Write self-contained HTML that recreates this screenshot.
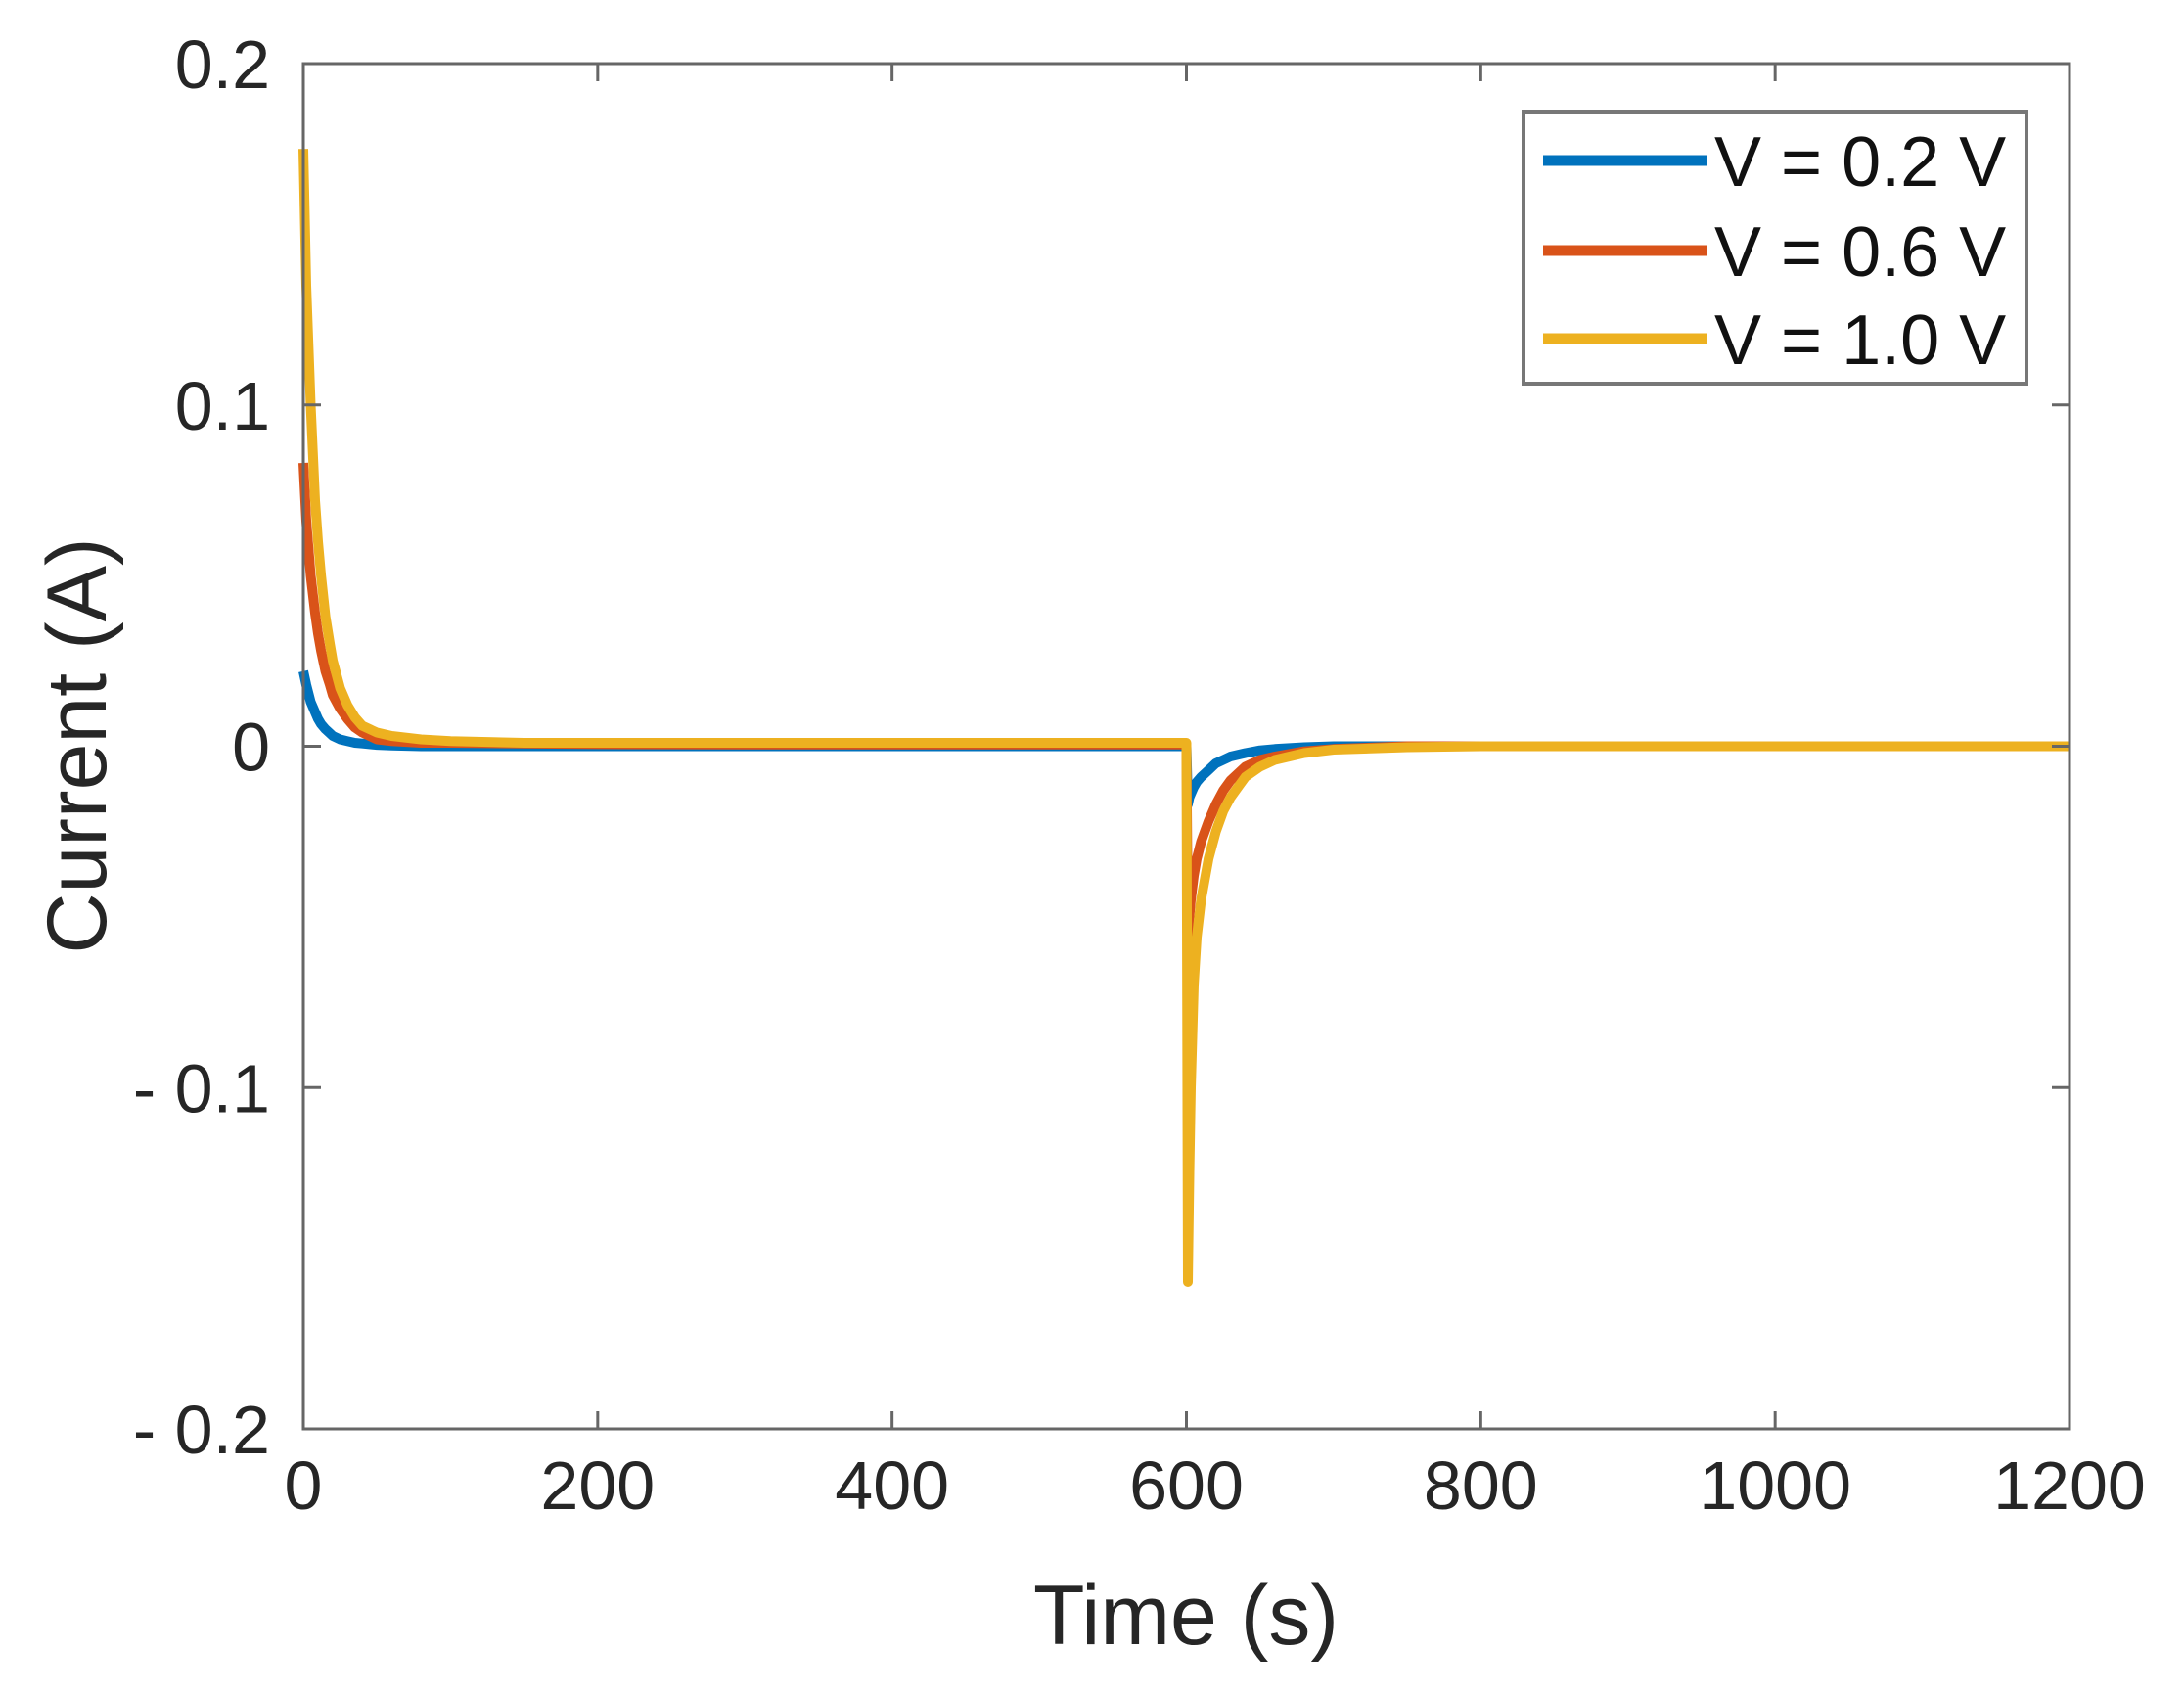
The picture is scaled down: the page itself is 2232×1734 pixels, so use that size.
<!DOCTYPE html>
<html><head><meta charset="utf-8"><style>
html,body{margin:0;padding:0;background:#fff;}
svg{display:block;font-family:"Liberation Sans",Arial,sans-serif;}
</style></head><body>
<svg id="chart" width="2232" height="1734" viewBox="0 0 2232 1734" xmlns="http://www.w3.org/2000/svg">
<rect x="0" y="0" width="2232" height="1734" fill="#fff"/>
<g id="series"></g>
<g id="axes"></g>
<text x="1212" y="1680" font-size="86" text-anchor="middle" fill="#262626">Time (s)</text>
<text transform="translate(108,762) rotate(-90)" font-size="86" text-anchor="middle" fill="#262626">Current (A)</text>
<g>
<rect x="1557" y="114" width="514" height="278" fill="#fff" stroke="#777" stroke-width="4"/>
<line x1="1577" y1="164" x2="1745" y2="164" stroke="#0072BD" stroke-width="11"/>
<text x="1752" y="190" font-size="72" fill="#111">V = 0.2 V</text>
<line x1="1577" y1="256" x2="1745" y2="256" stroke="#D95319" stroke-width="11"/>
<text x="1752" y="282" font-size="72" fill="#111">V = 0.6 V</text>
<line x1="1577" y1="346" x2="1745" y2="346" stroke="#EDB120" stroke-width="11"/>
<text x="1752" y="372" font-size="72" fill="#111">V = 1.0 V</text>
</g>
</svg>
<script>
const times = [0,2,5,8,10,12,15,18,20,25,30,35,40,50,60,80,100,150,200,300,400,500,599,600,601,602,603,605,607,610,615,620,625,630,640,650,660,680,700,750,800,1000,1200];
const blueVals = [0.022,0.018,0.013,0.010,0.008,0.0065,0.005,0.0038,0.003,0.002,0.0015,0.001,0.0008,0.0004,0.0002,0,0,0,0,0,0,0,0,0,-0.017,-0.015,-0.014,-0.012,-0.0105,-0.009,-0.007,-0.005,-0.004,-0.003,-0.002,-0.0012,-0.0008,-0.0003,0,0,0,0,0];
const redVals = [0.083,0.066,0.05,0.039,0.033,0.028,0.022,0.018,0.015,0.011,0.008,0.0055,0.004,0.002,0.0015,0.001,0.001,0.0008,0.0006,0.0005,0.0005,0.0005,0.0005,0.0005,-0.055,-0.05,-0.045,-0.038,-0.033,-0.028,-0.022,-0.017,-0.013,-0.01,-0.006,-0.004,-0.003,-0.0015,-0.0008,0,0,0,0];
const yellowVals = [0.175,0.135,0.10,0.072,0.06,0.05,0.038,0.03,0.025,0.017,0.012,0.0085,0.006,0.004,0.003,0.002,0.0015,0.001,0.001,0.001,0.001,0.001,0.001,0.001,-0.157,-0.125,-0.10,-0.07,-0.056,-0.045,-0.033,-0.025,-0.019,-0.015,-0.009,-0.006,-0.004,-0.002,-0.001,-0.0003,0,0,0];
const xTicks = [0,200,400,600,800,1000,1200];
const yTicks = [-0.2,-0.1,0,0.1,0.2];
const yTickLabels = ["- 0.2","- 0.1","0","0.1","0.2"];

const L=310,R=2115,T=65,B=1460;
function sx(t){return L+(t-0)/(1200-0)*(R-L);}
function sy(v){return B-(v+0.2)/0.4*(B-T);}
const NS="http://www.w3.org/2000/svg";
const sg=document.getElementById('series');
const ag=document.getElementById('axes');
function addSeries(vals,color,name){
  const p=document.createElementNS(NS,'path');
  
  
  p.setAttribute('d',times.map((t,i)=>(i?'L':'M')+sx(t).toFixed(1)+','+sy(vals[i]).toFixed(1)).join(''));
  p.setAttribute('fill','none');p.setAttribute('stroke',color);
  p.setAttribute('stroke-width','10');p.setAttribute('stroke-linejoin','round');
  sg.appendChild(p);
}
addSeries(blueVals,'#0072BD','series-0-2v');
addSeries(redVals,'#D95319','series-0-6v');
addSeries(yellowVals,'#EDB120','series-1-0v');

const box=document.createElementNS(NS,'rect');


box.setAttribute('x',L);box.setAttribute('y',T);box.setAttribute('width',R-L);box.setAttribute('height',B-T);
box.setAttribute('fill','none');box.setAttribute('stroke','#666');box.setAttribute('stroke-width','3');
ag.appendChild(box);
xTicks.forEach(t=>{
  const x=sx(t);
  [[B,B-18],[T,T+18]].forEach(([a,b])=>{
    const l=document.createElementNS(NS,'line');
    
    
    l.setAttribute('x1',x);l.setAttribute('x2',x);l.setAttribute('y1',a);l.setAttribute('y2',b);
    l.setAttribute('stroke','#666');l.setAttribute('stroke-width','3');ag.appendChild(l);
  });
  const tx=document.createElementNS(NS,'text');
  
  
  tx.setAttribute('x',x);tx.setAttribute('y',B+82);tx.setAttribute('font-size','70');
  tx.setAttribute('text-anchor','middle');tx.setAttribute('fill','#262626');tx.textContent=t;ag.appendChild(tx);
});
yTicks.forEach((v,i)=>{
  const y=sy(v);
  [[L,L+18],[R,R-18]].forEach(([a,b])=>{
    const l=document.createElementNS(NS,'line');
    
    
    l.setAttribute('x1',a);l.setAttribute('x2',b);l.setAttribute('y1',y);l.setAttribute('y2',y);
    l.setAttribute('stroke','#666');l.setAttribute('stroke-width','3');ag.appendChild(l);
  });
  const tx=document.createElementNS(NS,'text');
  
  
  tx.setAttribute('x',L-34);tx.setAttribute('y',y+25);tx.setAttribute('font-size','70');
  tx.setAttribute('text-anchor','end');tx.setAttribute('fill','#262626');tx.textContent=yTickLabels[i];ag.appendChild(tx);
});
</script>
</body></html>
